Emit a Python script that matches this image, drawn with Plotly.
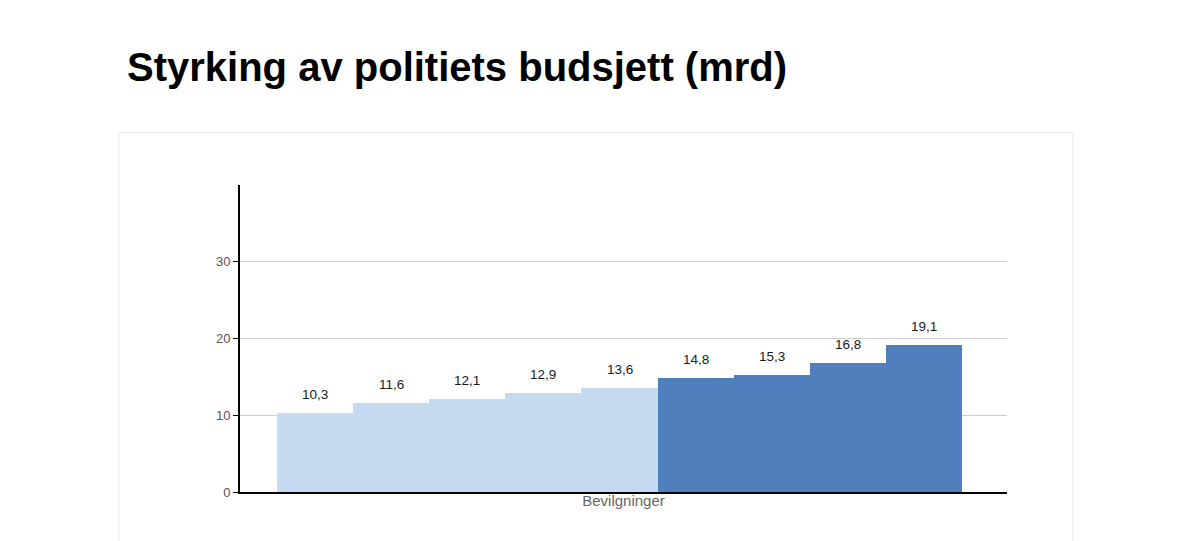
import plotly.graph_objects as go

# Bevilgninger i mrd kr
values = [10.3, 11.6, 12.1, 12.9, 13.6, 14.8, 15.3, 16.8, 19.1]
bar_colors = ["#c5d9f0"] * 5 + ["#4f80bd"] * 4
y_ticks = [0, 10, 20, 30]

positions = list(range(len(values)))
labels = [f"{v:.1f}".replace(".", ",") for v in values]

fig = go.Figure()
fig.add_trace(go.Bar(
    x=positions,
    y=values,
    width=1,
    marker=dict(color=bar_colors, line=dict(width=0)),
    hoverinfo="y",
    showlegend=False,
))

#Etiketter over søylene
for x, v, t in zip(positions, values, labels):
    fig.add_annotation(
        x=x, y=v, text=t, showarrow=False,
        yanchor="bottom", yshift=9,
        font=dict(family="Liberation Sans", size=13.5, color="#1a1a1a"),
    )

#Hvit ramme rundt diagrammet
fig.add_shape(
    type="rect", xref="paper", yref="paper",
    x0=-0.158, x1=1.086, y0=-0.3, y1=1.1705,
    line=dict(color="#e6e6e6", width=1),
    fillcolor="white", layer="below",
)

fig.update_layout(
    width=1200,
    height=541,
    margin=dict(l=232, r=201, t=177, b=57),
    paper_bgcolor="white",
    plot_bgcolor="rgba(0,0,0,0)",
    font=dict(family="Liberation Sans"),
    title=dict(
        text="<b>Styrking av politiets budsjett (mrd)</b>",
        x=119 / 1200, xanchor="left", xref="container",
        y=1 - 59 / 541, yanchor="middle", yref="container",
        font=dict(family="Liberation Sans", size=40, color="#000000"),
    ),
    bargap=0,
    xaxis=dict(
        range=[-0.986, 9.09],
        showticklabels=False,
        showgrid=False,
        zeroline=False,
        showline=True,
        linecolor="#000000",
        linewidth=2,
        ticks="",
        title=dict(text="Bevilgninger", standoff=2,
                   font=dict(size=15, color="#666666")),
    ),
    yaxis=dict(
        range=[0, 40],
        tickvals=y_ticks,
        showgrid=True,
        gridcolor="#cccccc",
        gridwidth=1,
        zeroline=False,
        showline=True,
        linecolor="#000000",
        linewidth=2,
        ticks="outside",
        ticklen=5,
        tickcolor="#000000",
        tickfont=dict(size=13, color="#555555"),
    ),
)

fig.write_html("out.html")
